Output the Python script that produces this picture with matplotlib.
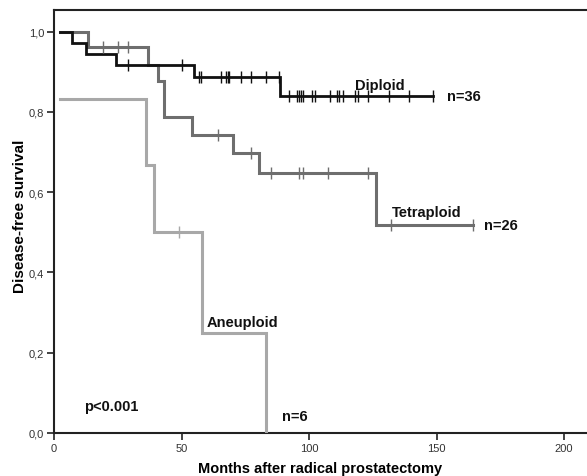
import matplotlib
matplotlib.use("Agg")
import matplotlib.pyplot as plt
import numpy as np

plt.rcParams['font.family'] = ['Liberation Sans', 'DejaVu Sans']

# ---- data ----
start_time = 2.3

dip_events = [7.2, 12.4, 24.2, 55.0, 88.6]
dip_surv = [0.972, 0.944, 0.917, 0.886, 0.840]
dip_end = 148.6
dip_censor = [29.1, 50.3, 57.0, 57.6, 65.4, 67.5, 68.1, 68.8, 73.3, 77.1, 83.1, 88.2,
              92.3, 95.2, 96.0, 96.7, 97.5, 101.1, 102.4, 108.1, 110.9, 111.9, 113.3,
              118.2, 119.1, 123.3, 131.2, 139.3, 148.6]

tet_events = [13.2, 37.0, 40.6, 43.1, 54.2, 70.3, 80.4, 126.3]
tet_surv = [0.962, 0.918, 0.876, 0.787, 0.743, 0.698, 0.648, 0.519]
tet_end = 164.4
tet_censor = [19.3, 25.2, 29.1, 64.2, 77.1, 85.0, 96.1, 97.8, 107.3, 123.3, 132.0, 164.4]

ane_start = 0.833
ane_events = [36.1, 39.2, 58.2, 83.1]
ane_surv = [0.667, 0.500, 0.250, 0.0]
ane_end = 83.1
ane_censor = [49.2]

x_ticks = [0, 50, 100, 150, 200]
y_ticks = [0.0, 0.2, 0.4, 0.6, 0.8, 1.0]
y_tick_labels = ["0,0", "0,2", "0,4", "0,6", "0,8", "1,0"]

fig = plt.figure(figsize=(5.87, 4.77), dpi=100)
ax = fig.add_axes([54/587, 1-434/477, 1-54/587, (434-11)/477])


def surv_at(t, s0, events, surv):
    s = s0
    for e, v in zip(events, surv):
        if t >= e:
            s = v
    return s


def draw(s0, events, surv, end, censor, color, lw):
    xs = [start_time] + list(events) + [end]
    ys = [s0] + list(surv) + [surv[-1]]
    ax.plot(xs, ys, drawstyle='steps-post', color=color, lw=lw, solid_joinstyle='miter',
            zorder=3)
    cy = [surv_at(t, s0, events, surv) for t in censor]
    ax.plot(censor, cy, linestyle='none', marker='|', markersize=8, markeredgewidth=1.0,
            color=color, zorder=4)


draw(1.0, tet_events, tet_surv, tet_end, tet_censor, '#6e6e6e', 2.2)
draw(ane_start, ane_events, ane_surv, ane_end, ane_censor, '#a8a8a8', 2.2)
draw(1.0, dip_events, dip_surv, dip_end, dip_censor, '#111111', 2.0)

ax.set_xlim(0, (587-54)/2.55)
ax.set_ylim(0, 423/401.3)

ax.set_xticks(x_ticks)
ax.set_xticklabels([str(v) for v in x_ticks])
ax.set_yticks(y_ticks)
ax.set_yticklabels(y_tick_labels)
ax.tick_params(direction='out', length=5, width=1.2, labelsize=8, colors='#222222',
               labelcolor='#333333', pad=2)

for s in ['left', 'bottom', 'top']:
    ax.spines[s].set_linewidth(1.5)
    ax.spines[s].set_color('#222222')
ax.spines['right'].set_visible(False)

ax.set_ylabel("Disease-free survival", fontsize=11, fontweight='bold')
ax.yaxis.set_label_coords((27-54)/533, (434-216.5)/423)
ax.set_xlabel("Months after radical prostatectomy", fontsize=10.5, fontweight='bold',
              labelpad=6)

tk = dict(fontsize=10.5, fontweight='bold', color='#111111')
ax.text(127.6, 0.866, "Diploid", ha='center', va='center', **tk)
ax.text(160.8, 0.841, "n=36", ha='center', va='center', **tk)
ax.text(146.0, 0.550, "Tetraploid", ha='center', va='center', **tk)
ax.text(175.1, 0.519, "n=26", ha='center', va='center', **tk)
ax.text(73.9, 0.277, "Aneuploid", ha='center', va='center', **tk)
ax.text(94.3, 0.043, "n=6", ha='center', va='center', **tk)
ax.text(22.6, 0.068, "p<0.001", ha='center', va='center', **tk)

fig.savefig("out.png", dpi=100)
